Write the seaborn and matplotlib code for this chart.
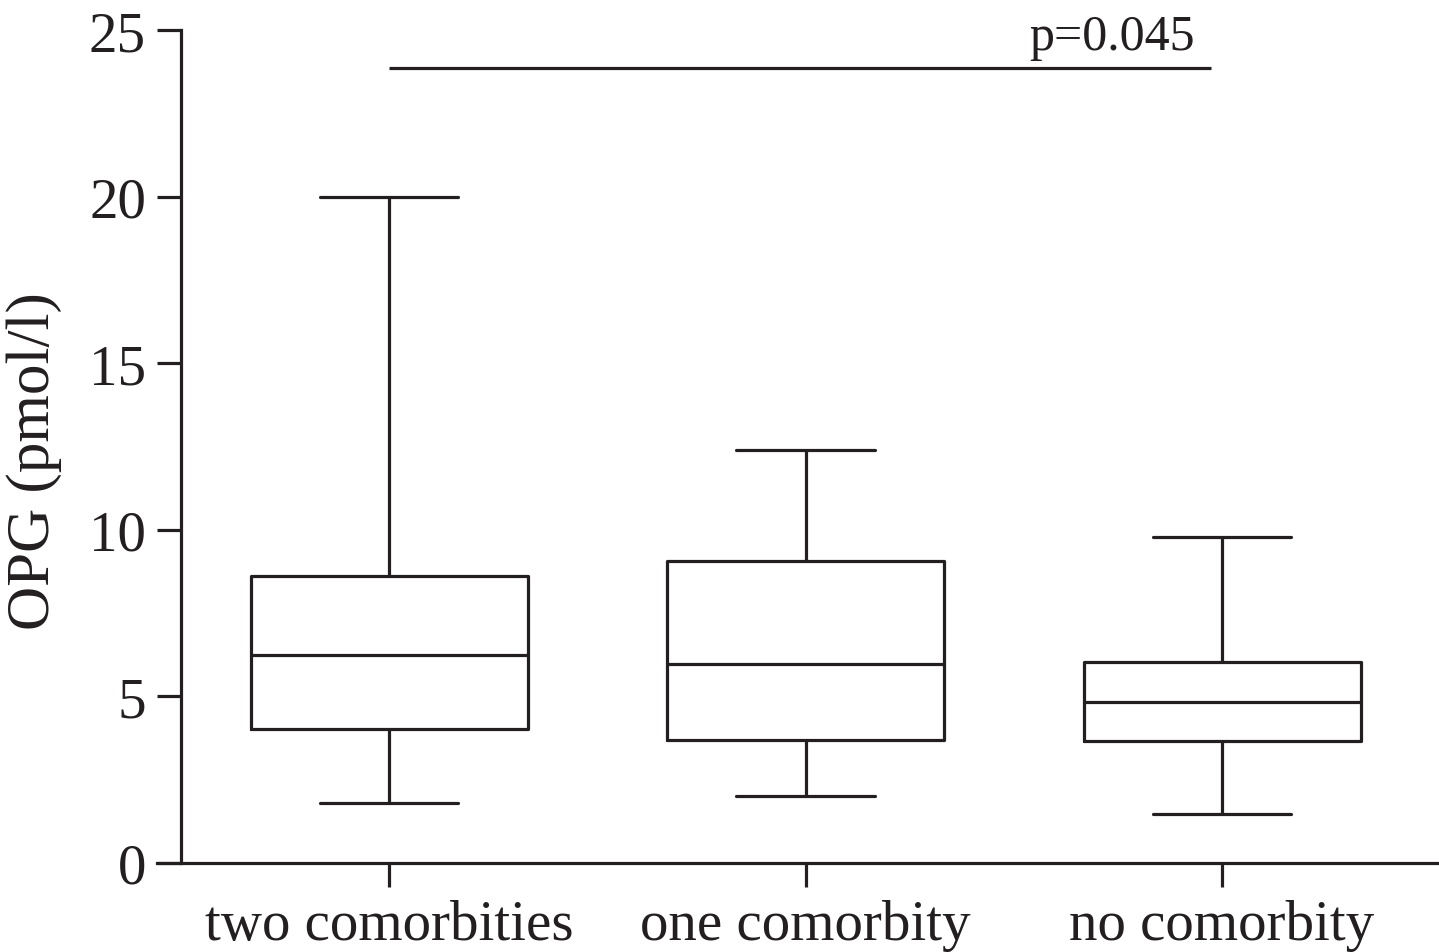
import matplotlib
matplotlib.use("Agg")
import matplotlib.pyplot as plt
import seaborn as sns
import pandas as pd

# Five-number summaries: whisker low, Q1, median, Q3, whisker high
categories = ["two comorbities", "one comorbity", "no comorbity"]
two_comorbities = [1.80, 4.02, 6.24, 8.61, 20.0]
one_comorbity = [2.01, 3.69, 5.97, 9.06, 12.39]
no_comorbity = [1.47, 3.66, 4.83, 6.03, 9.78]
y_ticks = [0, 5, 10, 15, 20, 25]
p_text = "p=0.045"
bracket_y = 23.86

sns.set_theme(style="ticks")
plt.rcParams["font.family"] = ["Liberation Serif", "DejaVu Serif"]

ink = "#231f20"
lw = 2.3

rows = []
for cat, vals in zip(categories, [two_comorbities, one_comorbity, no_comorbity]):
    for v in vals:
        rows.append({"group": cat, "OPG": v})
df = pd.DataFrame(rows)

fig = plt.figure(figsize=(14.39, 9.53), dpi=100)
ax = fig.add_axes([157 / 1439, 89 / 953, 1280 / 1439, 833 / 953])

sns.boxplot(
    data=df, x="group", y="OPG", order=categories, ax=ax,
    whis=(0, 100), width=0.665, fill=False, color=ink, linewidth=lw,
    showfliers=False,
)

ax.set_ylim(0, 25)
ax.set_xlim(-0.557, 2.516)
ax.set_yticks(y_ticks)
ax.set_yticklabels([str(t) for t in y_ticks])
ax.set_xlabel("")
ax.set_ylabel("OPG (pmol/l)", fontsize=44, color=ink)
ax.yaxis.set_label_coords(-0.074, 0.484)

for s in ["top", "right"]:
    ax.spines[s].set_visible(False)
ax.spines["left"].set_position(("data", -0.5))
for s in ["left", "bottom"]:
    ax.spines[s].set_linewidth(lw)
    ax.spines[s].set_color(ink)

ax.tick_params(axis="both", length=17, width=lw, color=ink, labelcolor=ink)
ax.tick_params(axis="x", labelsize=41, pad=9)
ax.tick_params(axis="y", labelsize=41, pad=8)

ax.plot([0, 1.974], [bracket_y, bracket_y], color=ink, lw=lw, clip_on=False,
        solid_capstyle="butt")
ax.text(1.935, 24.43, p_text, ha="right", va="baseline", fontsize=36, color=ink)

fig.savefig("out.png", dpi=100, facecolor="white")
